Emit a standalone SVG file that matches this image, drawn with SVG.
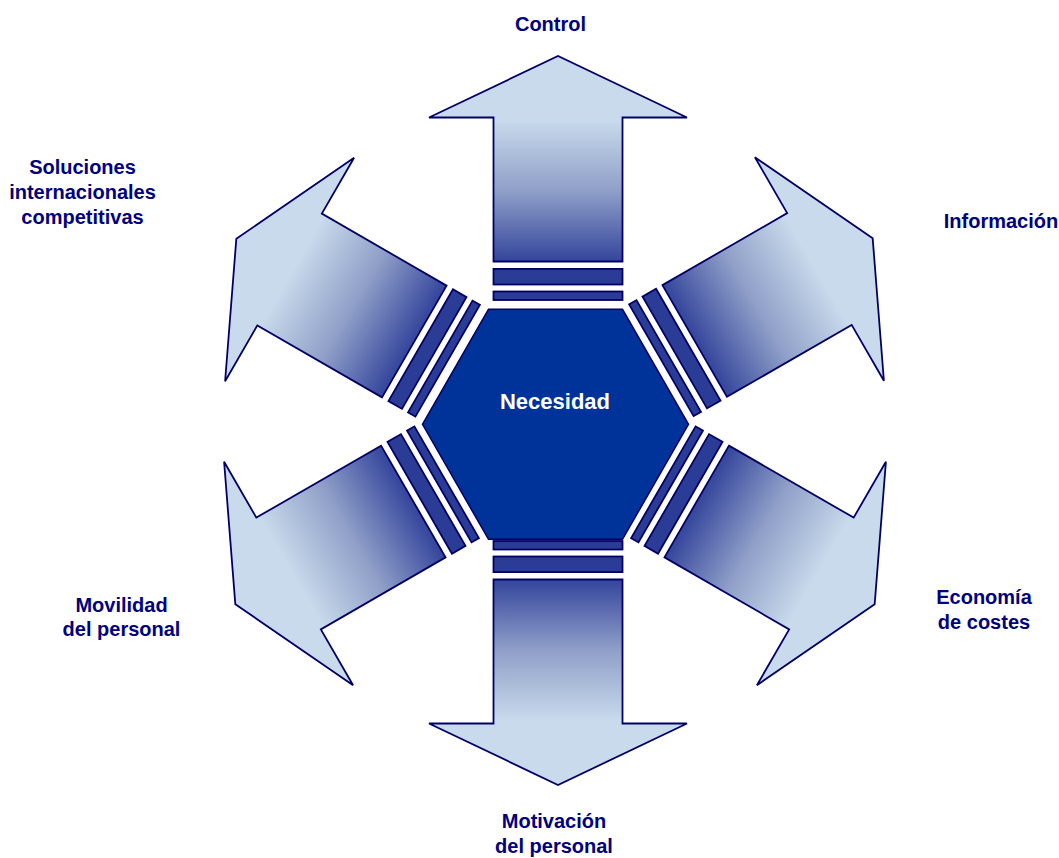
<svg xmlns="http://www.w3.org/2000/svg" width="1059" height="858" viewBox="0 0 1059 858">
<style>
.arrow{stroke:#000066;stroke-width:1.8;stroke-linejoin:miter}
.bar{fill:#2b3c96;stroke:#000066;stroke-width:1.8}
.lbl{font-family:"Liberation Sans",Arial,sans-serif;font-weight:bold;font-size:20px;fill:#000080;text-anchor:middle}
.ctr{font-family:"Liberation Sans",Arial,sans-serif;font-weight:bold;font-size:22px;fill:#ffffff;text-anchor:middle}
</style>
<defs>
<linearGradient id="g" gradientUnits="userSpaceOnUse" x1="0" y1="-159" x2="0" y2="-300">
<stop offset="0" stop-color="#34459c"/>
<stop offset="0.5" stop-color="#8f9fc8"/>
<stop offset="1" stop-color="#c8daeb"/>
</linearGradient>
<g id="arr">
<path class="arrow" fill="url(#g)" d="M -64.5,-159 L -64.5,-303 L -129,-303 L 0,-364.5 L 129,-303 L 64.5,-303 L 64.5,-159 Z"/>
<rect class="bar" x="-64.5" y="-129" width="129" height="8.5"/>
<rect class="bar" x="-64.5" y="-151.6" width="129" height="15.6"/>
</g>
</defs>
<g id="connectors">
<g id="arrow-control" transform="translate(558 420.5) rotate(0)"><use href="#arr"/></g>
<g id="arrow-informacion" transform="translate(557 420.5) rotate(60)"><use href="#arr"/></g>
<g id="arrow-economia" transform="translate(559 422) rotate(120)"><use href="#arr"/></g>
<g id="arrow-motivacion" transform="translate(558 420.5) rotate(180)"><use href="#arr"/></g>
<g id="arrow-movilidad" transform="translate(551 422) rotate(240)"><use href="#arr"/></g>
<g id="arrow-soluciones" transform="translate(552 421) rotate(300)"><use href="#arr"/></g>
</g>
<g id="node-necesidad">
<polygon points="488.5,309.3 622.5,309.3 688.5,424.3 622.5,539.3 488.5,539.3 422.5,424.3" fill="#003399" stroke="#000066" stroke-width="1.5"/>
<text class="ctr" x="555" y="409">Necesidad</text>
</g>
<g id="node-control"><text class="lbl" x="550.5" y="31">Control</text></g>
<g id="node-soluciones"><text class="lbl" x="82.5" y="174.3">Soluciones</text><text class="lbl" x="82.5" y="199.3">internacionales</text><text class="lbl" x="82.5" y="223.5">competitivas</text></g>
<g id="node-informacion"><text class="lbl" x="1001" y="228.3">Información</text></g>
<g id="node-economia"><text class="lbl" x="984" y="604">Economía</text><text class="lbl" x="984" y="629">de costes</text></g>
<g id="node-movilidad"><text class="lbl" x="121.5" y="611.7">Movilidad</text><text class="lbl" x="121.5" y="636">del personal</text></g>
<g id="node-motivacion"><text class="lbl" x="554" y="828.3">Motivación</text><text class="lbl" x="554" y="853.3">del personal</text></g>
</svg>
